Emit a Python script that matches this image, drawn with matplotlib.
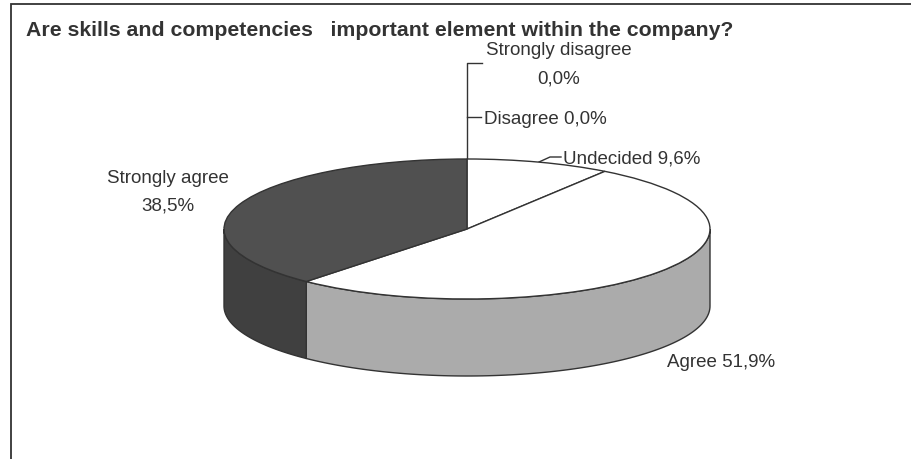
# -*- coding: utf-8 -*-
"""
Skills and competencies survey, 3D style pie
"""

import numpy as np
import matplotlib
matplotlib.use('Agg')
import matplotlib.pyplot as plt

plt.rcParams['font.family'] = ['Liberation Sans', 'DejaVu Sans']

title = 'Are skills and competencies   important element within the company?'
categories = ['Undecided', 'Agree', 'Strongly agree']
values = [9.6, 51.9, 38.5]
top_colors = ['#ffffff', '#ffffff', '#505050']
side_colors = ['#ffffff', '#ababab', '#404040']

W, H = 911, 460
cx, cy, rx, ry = 467, 230, 243, 70
depth = 77 / ry
line_col = '#333333'
text_col = '#333333'
fs = 13.5

fig = plt.figure(figsize=(W / 100, H / 100), dpi=100)

# background axes in pixels, for the frame, labels and leader lines
bg = fig.add_axes([0, 0, 1, 1])
bg.set_xlim(0, W)
bg.set_ylim(H, 0)
bg.axis('off')

bg.plot([10.5, 10.5, W], [H, 4.5, 4.5], color=line_col, lw=1.3, solid_joinstyle='miter')
bg.text(26.5, 30, title, fontsize=15.3, fontweight='bold', color=text_col, va='center', ha='left')

bg.plot([482, 467, 467], [64, 64, 160], color=line_col, lw=1)
bg.plot([467, 481], [118, 118], color=line_col, lw=1)
bg.plot([539, 550, 561], [163, 158, 158], color=line_col, lw=1)

bg.text(558.5, 50.5, 'Strongly disagree', fontsize=fs, color=text_col, ha='center', va='center')
bg.text(558.5, 79, '0,0%', fontsize=fs, color=text_col, ha='center', va='center')
bg.text(484, 119, 'Disagree 0,0%', fontsize=fs, color=text_col, ha='left', va='center')
bg.text(563, 159, 'Undecided 9,6%', fontsize=fs, color=text_col, ha='left', va='center')
bg.text(168, 178.5, 'Strongly agree', fontsize=fs, color=text_col, ha='center', va='center')
bg.text(168, 206.5, '38,5%', fontsize=fs, color=text_col, ha='center', va='center')
bg.text(667, 363, 'Agree 51,9%', fontsize=fs, color=text_col, ha='left', va='center')

# pie axes cover exactly the ellipse, so the unit circle gets squashed
ax = fig.add_axes([(cx - rx) / W, 1 - (cy + ry) / H, 2 * rx / W, 2 * ry / H])

# side walls: only the front half (90 to 270 degrees from the top) shows
ends = np.cumsum(values) / np.sum(values) * 360
starts = ends - np.array(values) / np.sum(values) * 360
for a0, a1, col in zip(starts, ends, side_colors):
    lo, hi = max(a0, 90), min(a1, 270)
    if hi <= lo:
        continue
    th = np.radians(np.linspace(lo, hi, 100))
    x = np.sin(th)
    y = np.cos(th)
    ax.fill(np.r_[x, x[::-1]], np.r_[y, y[::-1] - depth], facecolor=col,
            edgecolor=line_col, lw=1, clip_on=False, zorder=1)

wedges, _ = ax.pie(values, colors=top_colors, startangle=90, counterclock=False,
                   wedgeprops={'edgecolor': line_col, 'linewidth': 1})
for w in wedges:
    w.set_zorder(2)
    w.set_clip_on(False)

ax.set_aspect('auto')
ax.set_xlim(-1, 1)
ax.set_ylim(-1, 1)

fig.savefig('out.png', dpi=100)
